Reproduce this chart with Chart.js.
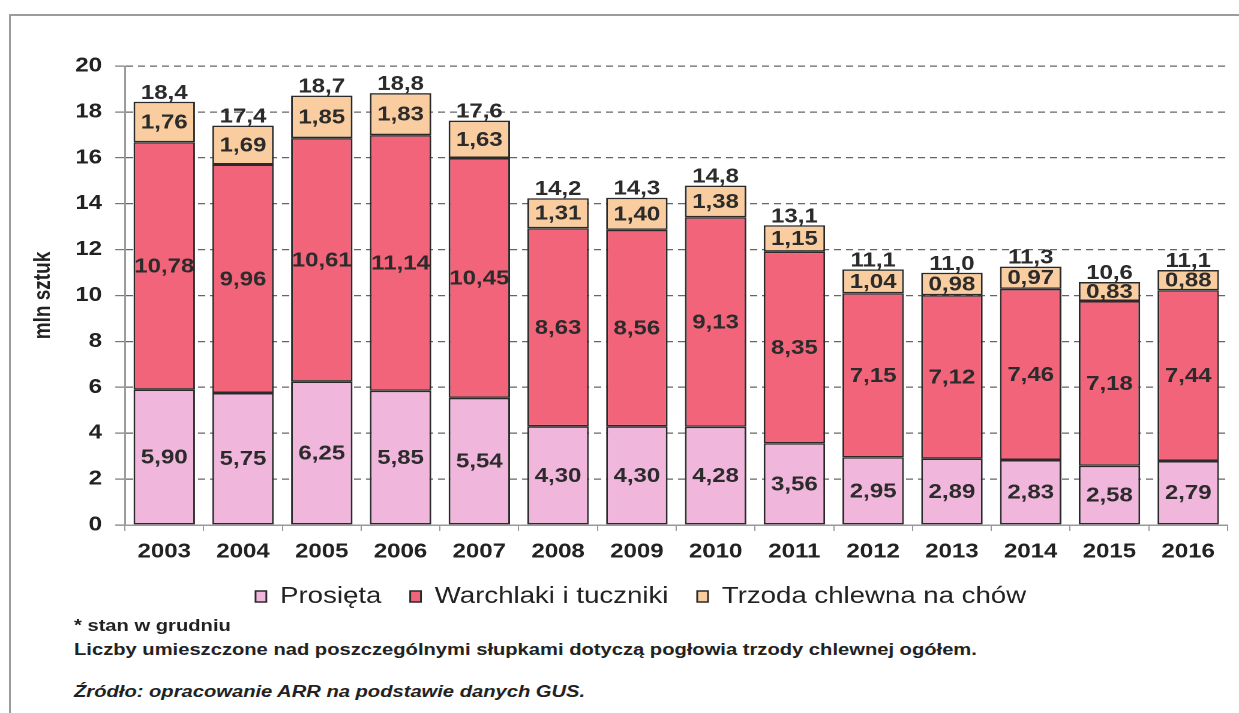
<!DOCTYPE html>
<html>
<head>
<meta charset="utf-8">
<script src="https://cdn.jsdelivr.net/npm/chart.js@4.4.1/dist/chart.umd.min.js"></script>
<style>
  body { margin: 0; background: #fff; width: 1239px; height: 713px; overflow: hidden; position: relative;
         font-family: "Liberation Sans", Arial, sans-serif; }
  #frame { position: absolute; left: 9px; top: 14px; right: -10px; bottom: -10px;
           border-left: 2px solid #9c9c9c; border-top: 2px solid #9c9c9c; }
  /* the source picture is stretched sideways, so the chart is drawn narrower and widened */
  #wrap { position: absolute; left: 0; top: 0; width: 1033px; height: 630px;
          transform: scaleX(1.2); transform-origin: 0 0; }
  .note { position: absolute; left: 74px; font-size: 16px; line-height: 20px; font-weight: bold; color: #222;
          transform: scaleX(1.26); transform-origin: 0 0; white-space: nowrap; z-index: 2; }
</style>
</head>
<body>
<div id="frame"></div>
<div id="wrap"><canvas id="pigChart"></canvas></div>
<div class="note" style="top:616px">* stan w grudniu</div>
<div class="note" style="top:640px">Liczby umieszczone nad poszczególnymi słupkami dotyczą pogłowia trzody chlewnej ogółem.</div>
<div class="note" style="top:682px;font-style:italic">Źródło: opracowanie ARR na podstawie danych GUS.</div>

<script>
// =========================
// DATA (mln sztuk)
// =========================
const years = ["2003", "2004", "2005", "2006", "2007", "2008", "2009",
               "2010", "2011", "2012", "2013", "2014", "2015", "2016"];
const prosieta  = [5.90, 5.75, 6.25, 5.85, 5.54, 4.30, 4.30, 4.28, 3.56, 2.95, 2.89, 2.83, 2.58, 2.79];
const warchlaki = [10.78, 9.96, 10.61, 11.14, 10.45, 8.63, 8.56, 9.13, 8.35, 7.15, 7.12, 7.46, 7.18, 7.44];
const trzoda    = [1.76, 1.69, 1.85, 1.83, 1.63, 1.31, 1.40, 1.38, 1.15, 1.04, 0.98, 0.97, 0.83, 0.88];
const totals    = [18.4, 17.4, 18.7, 18.8, 17.6, 14.2, 14.3, 14.8, 13.1, 11.1, 11.0, 11.3, 10.6, 11.1];

const FONT = '"Liberation Sans", Arial, sans-serif';
const fmt = (v, d) => v.toFixed(d).replace(".", ",");

// =========================
// VALUE LABELS
// =========================
const valueLabels = {
    id: "valueLabels",
    afterDatasetsDraw(chart) {
        const ctx = chart.ctx;
        ctx.save();
        ctx.font = `bold 20px ${FONT}`;
        ctx.fillStyle = "#2b2b2b";
        ctx.textAlign = "center";
        ctx.textBaseline = "middle";
        chart.data.datasets.forEach((ds, i) => {
            chart.getDatasetMeta(i).data.forEach((bar, j) => {
                const { x, y, base } = bar.getProps(["x", "y", "base"], true);
                ctx.fillText(fmt(ds.data[j], 2), x, (y + base) / 2 + 1);
            });
        });
        // totals above the stack
        const topBars = chart.getDatasetMeta(chart.data.datasets.length - 1).data;
        ctx.textBaseline = "alphabetic";
        topBars.forEach((bar, j) => ctx.fillText(fmt(totals[j], 1), bar.x, bar.y - 3));
        ctx.restore();
    }
};

// legend sits a bit right of the canvas centre and close under the axis in the source
const legendShift = {
    id: "legendShift",
    afterLayout(chart) {
        const lg = chart.legend;
        lg.left += 15;
        lg.right += 15;
        lg.top -= 12;
        lg.bottom -= 12;
    }
};

new Chart(document.getElementById("pigChart"), {
    type: "bar",
    data: {
        labels: years,
        datasets: [
            { label: "Prosięta", data: prosieta, backgroundColor: "#F0B6DC" },
            { label: "Warchlaki i tuczniki", data: warchlaki, backgroundColor: "#F2647A" },
            { label: "Trzoda chlewna na chów", data: trzoda, backgroundColor: "#F9CD9F" }
        ].map(ds => ({
            ...ds,
            borderColor: "#2a2a2a",
            borderWidth: 1.5,
            borderSkipped: false,
            barPercentage: 0.78,
            categoryPercentage: 1
        }))
    },
    options: {
        responsive: true,
        maintainAspectRatio: false,
        animation: false,
        devicePixelRatio: 2,
        layout: { padding: { top: 66, left: 15, right: 10, bottom: 0 } },
        plugins: {
            legend: {
                position: "bottom",
                labels: {
                    color: "#222",
                    font: { family: FONT, size: 23 },
                    boxWidth: 9,
                    boxHeight: 11,
                    padding: 24
                }
            },
            tooltip: { enabled: false }
        },
        scales: {
            x: {
                stacked: true,
                grid: { drawOnChartArea: false, color: "#999", tickLength: 6 },
                border: { color: "#999", width: 1.5 },
                ticks: { color: "#222", font: { family: FONT, size: 20, weight: "bold" }, padding: 9 }
            },
            y: {
                stacked: true,
                min: 0,
                max: 20,
                grid: { color: "#666", lineWidth: 1.2, tickLength: 8, tickBorderDash: [], tickColor: "#777" },
                border: { color: "#999", width: 1.5, dash: [6, 4] },
                ticks: { stepSize: 2, color: "#222", font: { family: FONT, size: 20, weight: "bold" }, padding: 11 },
                title: {
                    display: true,
                    text: "mln sztuk",
                    color: "#222",
                    font: { family: FONT, size: 19, weight: "bold" },
                    padding: { top: 10, bottom: 4 }
                }
            }
        }
    },
    plugins: [valueLabels, legendShift]
});
</script>
</body>
</html>
